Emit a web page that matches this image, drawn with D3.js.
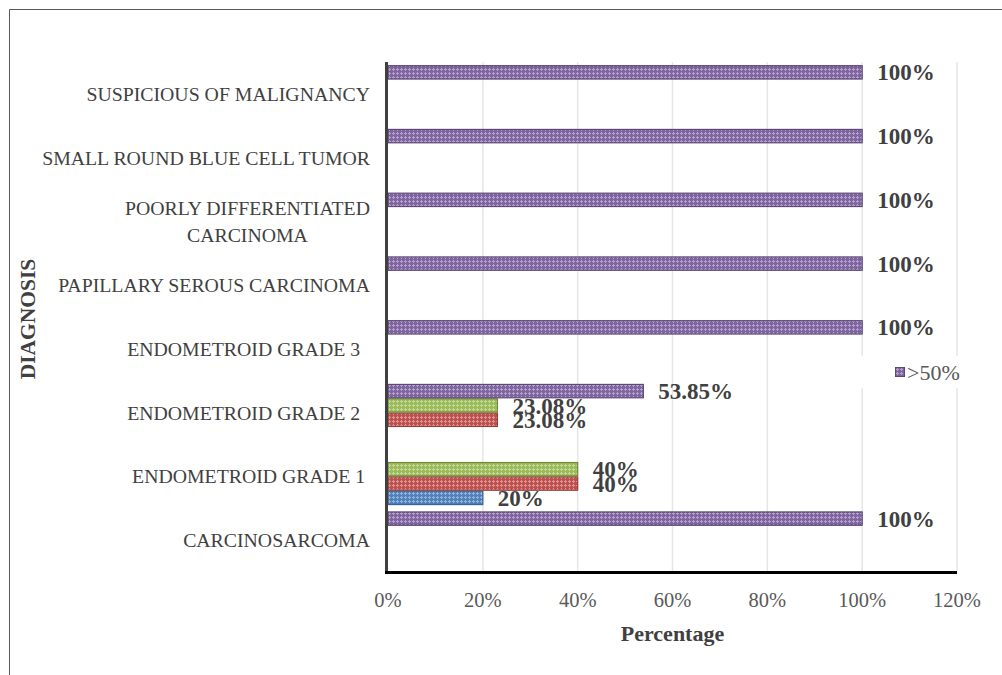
<!DOCTYPE html>
<html>
<head>
<meta charset="utf-8">
<script src="https://cdn.jsdelivr.net/npm/d3@7"></script>
<style>
  body { margin: 0; background: #fff; }
  svg { display: block; font-family: "Liberation Serif", "Times New Roman", serif; }
</style>
</head>
<body>
<div id="chart"></div>
<script>
// categories, bottom to top (Excel order). "|" marks a line break
let categories = [
    "CARCINOSARCOMA",
    "ENDOMETROID GRADE 1 ",
    "ENDOMETROID GRADE 2  ",
    "ENDOMETROID GRADE 3  ",
    "PAPILLARY SEROUS CARCINOMA",
    "POORLY DIFFERENTIATED|CARCINOMA",
    "SMALL ROUND BLUE CELL TUMOR",
    "SUSPICIOUS OF MALIGNANCY"
];

let seriesNames = ["<10%", "10-25%", "25-50%", ">50%"];
let legendShown = [">50%"];

// values in percent, one array per series (null = no bar)
let series1 = [null, 20, null, null, null, null, null, null];
let series2 = [null, 40, 23.08, null, null, null, null, null];
let series3 = [null, 40, 23.08, null, null, null, null, null];
let series4 = [100, null, 53.85, 100, 100, 100, 100, 100];

let xTicks = [0, 20, 40, 60, 80, 100, 120];

let baseColors = ["#4F81BD", "#C0504D", "#9BBB59", "#8064A2"];
let edgeColors = ["#3A6496", "#943C3A", "#71893F", "#5C4776"];

let allSeries = [series1, series2, series3, series4];

let width = 1002, height = 675;
let margin = {left: 388, right: 45, top: 62, bottom: 103};

let svg = d3.select("#chart").append("svg")
    .attr("width", width)
    .attr("height", height);

// patterned fills
let defs = svg.append("defs");
baseColors.forEach((c, i) => {
    let light = d3.interpolateRgb(c, "#ffffff")(0.4);
    let p = defs.append("pattern")
        .attr("id", "pat" + i)
        .attr("width", 4)
        .attr("height", 4)
        .attr("patternUnits", "userSpaceOnUse");
    p.append("rect").attr("width", 4).attr("height", 4).attr("fill", c);
    p.append("rect").attr("x", 1).attr("y", 0).attr("width", 1).attr("height", 3).attr("fill", light);
    p.append("rect").attr("x", 0).attr("y", 1).attr("width", 3).attr("height", 1).attr("fill", light);
});

// outer frame (cropped chart area border)
svg.append("path")
    .attr("d", `M9.5,${height} V9.5 H${width}`)
    .attr("fill", "none")
    .attr("stroke", "#595959")
    .attr("stroke-width", 1);

let x = d3.scaleLinear()
    .domain([0, 120])
    .range([margin.left, width - margin.right]);

let y0 = d3.scaleBand()
    .domain(categories.slice().reverse())
    .range([margin.top, height - margin.bottom])
    .paddingInner(0.1)
    .paddingOuter(0.05);

// within a group the first series sits at the bottom
let y1 = d3.scaleBand()
    .domain(seriesNames.slice().reverse())
    .range([0, y0.bandwidth()]);

// gridlines
svg.append("g")
    .selectAll("line")
    .data(xTicks.slice(1))
    .join("line")
    .attr("x1", d => x(d))
    .attr("x2", d => x(d))
    .attr("y1", margin.top)
    .attr("y2", height - margin.bottom)
    .attr("stroke", "#E6E6E6")
    .attr("stroke-width", 1.5);

// bars
let rows = [];
categories.forEach((cat, ci) => {
    allSeries.forEach((s, si) => {
        if (s[ci] != null) rows.push({cat: cat, s: si, v: s[ci]});
    });
});

svg.append("g")
    .selectAll("rect")
    .data(rows)
    .join("rect")
    .attr("x", x(0))
    .attr("y", d => y0(d.cat) + y1(seriesNames[d.s]) + 0.5)
    .attr("width", d => x(d.v) - x(0))
    .attr("height", y1.bandwidth() - 1)
    .attr("fill", d => `url(#pat${d.s})`)
    .attr("stroke", d => edgeColors[d.s])
    .attr("stroke-width", 1.2);

// data labels (overlaps kept as in the source chart)
svg.append("g")
    .selectAll("text")
    .data(rows)
    .join("text")
    .attr("x", d => x(d.v) + 15)
    .attr("y", d => y0(d.cat) + y1(seriesNames[d.s]) + y1.bandwidth() / 2)
    .attr("dy", "0.35em")
    .attr("font-size", "23px")
    .attr("font-weight", "bold")
    .attr("fill", "#404040")
    .text(d => d.v + "%");

// axes lines
svg.append("line")
    .attr("x1", x(0) - 1.5).attr("x2", x(0) - 1.5)
    .attr("y1", margin.top).attr("y2", height - margin.bottom + 1.5)
    .attr("stroke", "#404040")
    .attr("stroke-width", 3);

svg.append("line")
    .attr("x1", x(0) - 3).attr("x2", x(120))
    .attr("y1", height - margin.bottom + 0.5).attr("y2", height - margin.bottom + 0.5)
    .attr("stroke", "#000")
    .attr("stroke-width", 3);

// x tick labels
svg.append("g")
    .selectAll("text")
    .data(xTicks)
    .join("text")
    .attr("x", d => x(d))
    .attr("y", 600)
    .attr("dy", "0.35em")
    .attr("text-anchor", "middle")
    .attr("font-size", "20.5px")
    .attr("fill", "#595959")
    .text(d => d + "%");

// category labels
let catG = svg.append("g");
categories.forEach(cat => {
    let lines = cat.split("|");
    let cy = y0(cat) + y0.bandwidth() / 2;
    let t = catG.append("text")
        .attr("font-size", "19.8px")
        .attr("fill", "#404040")
        .style("white-space", "pre");
    lines.forEach((ln, i) => {
        t.append("tspan")
            .attr("y", cy + (i - (lines.length - 1) / 2) * 27)
            .attr("dy", "0.35em")
            .text(ln);
    });
    let maxW = d3.max(t.selectAll("tspan").nodes(), n => n.getComputedTextLength());
    t.attr("text-anchor", "middle");
    t.selectAll("tspan").attr("x", 370 - maxW / 2);
});

// axis titles
svg.append("text")
    .attr("x", (x(0) + x(120)) / 2)
    .attr("y", 633)
    .attr("dy", "0.35em")
    .attr("text-anchor", "middle")
    .attr("font-size", "22px")
    .attr("font-weight", "bold")
    .attr("fill", "#404040")
    .text("Percentage");

svg.append("text")
    .attr("transform", "translate(27,319) rotate(-90)")
    .attr("dy", "0.35em")
    .attr("text-anchor", "middle")
    .attr("font-size", "21.5px")
    .attr("font-weight", "bold")
    .attr("fill", "#404040")
    .text("DIAGNOSIS");

// legend
let legend = svg.append("g");
legend.append("rect")
    .attr("x", 858).attr("y", 356)
    .attr("width", 142).attr("height", 32)
    .attr("fill", "#fff");
legendShown.forEach((name, i) => {
    let si = seriesNames.indexOf(name);
    legend.append("rect")
        .attr("x", 895.5).attr("y", 367.5 + i * 24)
        .attr("width", 9).attr("height", 9)
        .attr("fill", `url(#pat${si})`)
        .attr("stroke", edgeColors[si])
        .attr("stroke-width", 1);
    legend.append("text")
        .attr("x", 907).attr("y", 372 + i * 24)
        .attr("dy", "0.35em")
        .attr("font-size", "22px")
        .attr("fill", "#595959")
        .text(name);
});
</script>
</body>
</html>
